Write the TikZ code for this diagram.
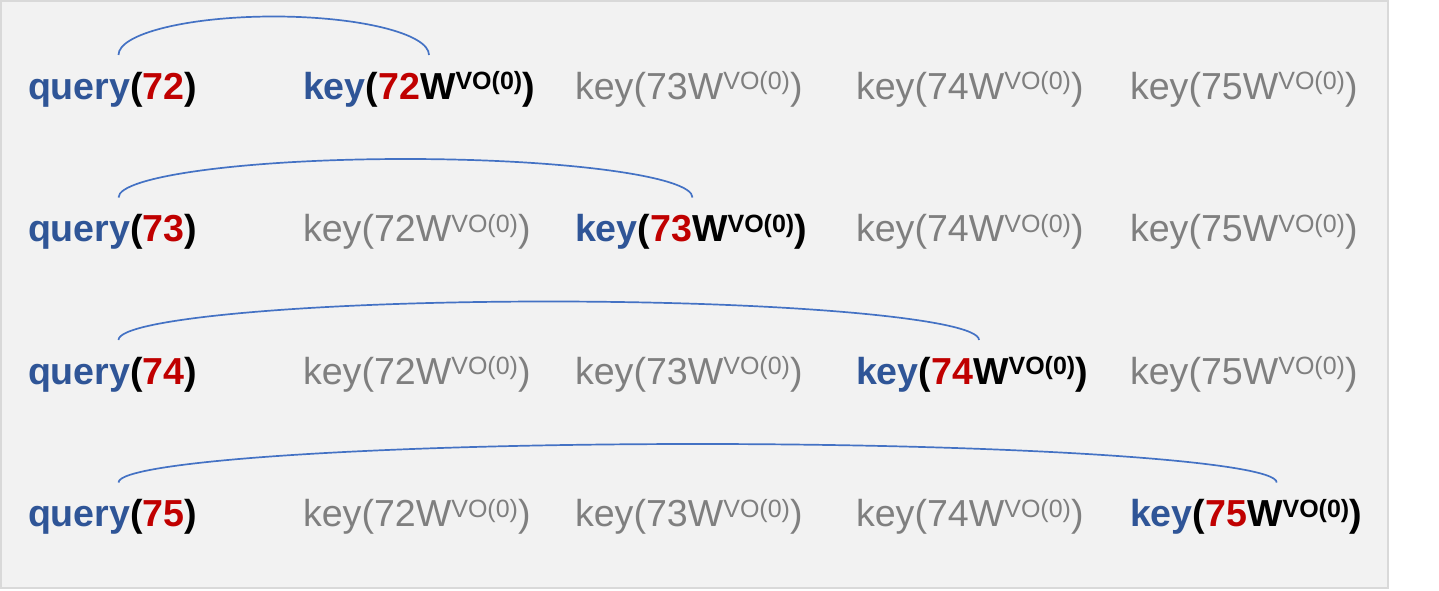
\documentclass[tikz,border=0pt]{standalone}
\usepackage{fontspec}
\setmainfont{Liberation Sans}
\usetikzlibrary{calc}
\definecolor{qblue}{HTML}{2F5597}
\definecolor{qred}{HTML}{C00000}
\definecolor{kgray}{HTML}{7F7F7F}
\definecolor{arcblue}{HTML}{4472C4}
\definecolor{bgfill}{HTML}{F2F2F2}
\definecolor{bgline}{HTML}{D9D9D9}
\newcommand\supvo{\raisebox{9.5pt}{\fontsize{25}{29}\selectfont VO(0)}}
\newcommand\qtext[1]{\textbf{\textcolor{qblue}{query}(\textcolor{qred}{#1})}}
\newcommand\kact[1]{\textbf{\textcolor{qblue}{key}(\textcolor{qred}{#1}W\supvo)}}
\newcommand\kgr[1]{\textcolor{kgray}{key(#1W\supvo)}}
\tikzset{
  lbl/.style={anchor=base west, inner sep=0pt, outer sep=0pt, font=\fontsize{37.6}{44}\selectfont},
  link/.style={draw=arcblue, line width=1.7pt}
}
\begin{document}
\begin{tikzpicture}[x=1pt,y=-1pt]
\useasboundingbox (0,0) rectangle (1439,591);
\draw[draw=bgline, fill=bgfill, line width=2pt] (1,1) rectangle (1388,588);
% row 1
\node[lbl] (q1) at (28,99.3) {\qtext{72}};
\node[lbl] (k11) at (303,99.3) {\kact{72}};
\node[lbl] (k12) at (575,99.3) {\kgr{73}};
\node[lbl] (k13) at (856,99.3) {\kgr{74}};
\node[lbl] (k14) at (1130,99.3) {\kgr{75}};
% row 2
\node[lbl] (q2) at (28,241.8) {\qtext{73}};
\node[lbl] (k21) at (303,241.8) {\kgr{72}};
\node[lbl] (k22) at (575,241.8) {\kact{73}};
\node[lbl] (k23) at (856,241.8) {\kgr{74}};
\node[lbl] (k24) at (1130,241.8) {\kgr{75}};
% row 3
\node[lbl] (q3) at (28,384.3) {\qtext{74}};
\node[lbl] (k31) at (303,384.3) {\kgr{72}};
\node[lbl] (k32) at (575,384.3) {\kgr{73}};
\node[lbl] (k33) at (856,384.3) {\kact{74}};
\node[lbl] (k34) at (1130,384.3) {\kgr{75}};
% row 4
\node[lbl] (q4) at (28,526.8) {\qtext{75}};
\node[lbl] (k41) at (303,526.8) {\kgr{72}};
\node[lbl] (k42) at (575,526.8) {\kgr{73}};
\node[lbl] (k43) at (856,526.8) {\kgr{74}};
\node[lbl] (k44) at (1130,526.8) {\kact{75}};
% arc end points
\coordinate (s1) at (118.5,55);
\coordinate (e1) at (429,55);
\coordinate (s2) at (118.5,197.5);
\coordinate (e2) at (692.5,197.5);
\coordinate (s3) at (118.5,340);
\coordinate (e3) at (979,340);
\coordinate (s4) at (118.5,482.5);
\coordinate (e4) at (1276.7,482.5);
\foreach \i in {1,2,3,4}{
  \draw[link] let \p1=(s\i), \p2=(e\i) in
    (s\i) arc[start angle=180, end angle=0, x radius={(\x2-\x1)/2}, y radius=38.5pt];
}
\end{tikzpicture}
\end{document}
